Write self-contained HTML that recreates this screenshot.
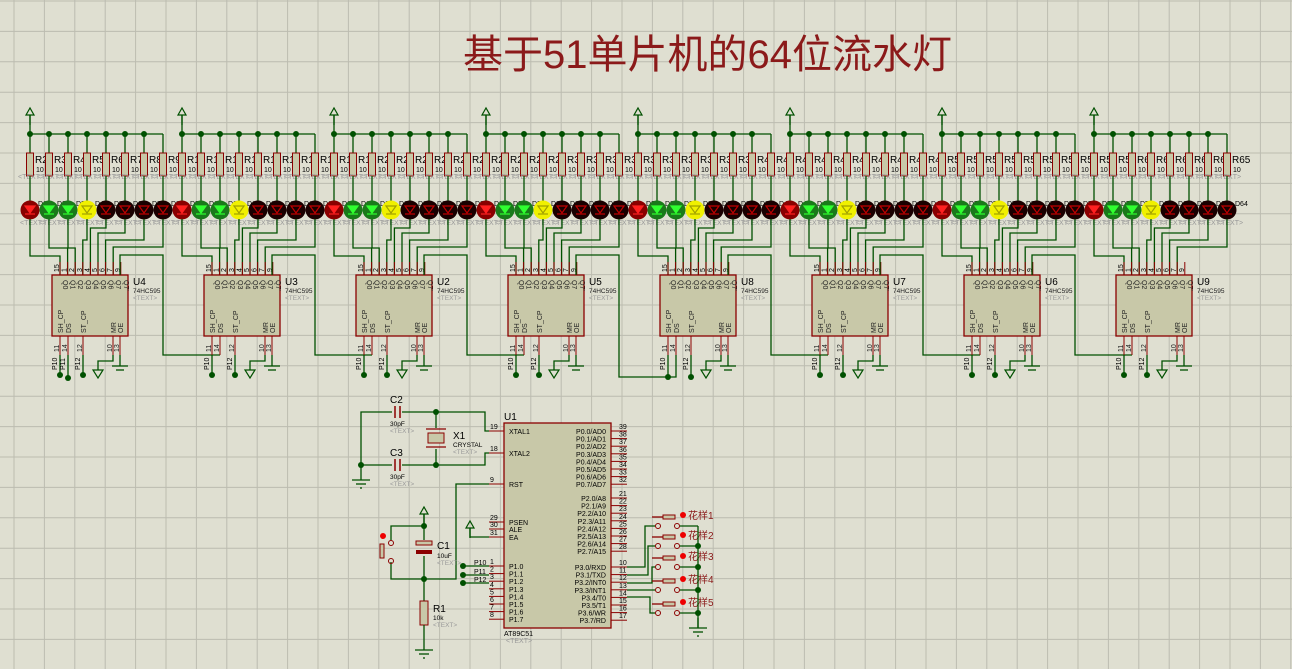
<!DOCTYPE html>
<html><head><meta charset="utf-8"><style>
html,body{margin:0;padding:0;background:#dfdfd1;}
svg{display:block;font-family:"Liberation Sans","Noto Sans CJK SC",sans-serif;}
</style></head><body>
<svg id="s" width="1292" height="669" viewBox="0 0 1292 669" xmlns="http://www.w3.org/2000/svg">
<rect width="1292" height="669" fill="#dfdfd1"/>
<g id="grid" stroke="#bcbcb0" stroke-width="1"></g>
<text x="463" y="68" font-size="40" fill="#8b1a1a" font-family="Liberation Sans,Noto Sans CJK SC,sans-serif">基于51单片机的64位流水灯</text>
<g id="main"></g>
</svg>
<script>
var g=document.getElementById('grid'),m=document.getElementById('main');
var h='';
for(var x=14;x<1292;x+=30.4)h+='<line x1="'+x.toFixed(1)+'" y1="0" x2="'+x.toFixed(1)+'" y2="669"/>';
for(var y=1;y<669;y+=30.4)h+='<line x1="0" y1="'+y.toFixed(1)+'" x2="1292" y2="'+y.toFixed(1)+'"/>';
g.innerHTML=h;
var o='';
var W='#005000',P='#8b0000',F='#c8c8a8';
function L(pts,c,w){o+='<polyline points="'+pts+'" fill="none" stroke="'+(c||W)+'" stroke-width="'+(w||1.3)+'"/>';}
function D(x,y){o+='<circle cx="'+x+'" cy="'+y+'" r="3" fill="'+W+'"/>';}
function T(x,y,s,t,c,extra){o+='<text x="'+x+'" y="'+y+'" font-size="'+s+'" fill="'+(c||'#000')+'" '+(extra||'')+'>'+t+'</text>';}
function PWR(x,y){L(x+','+(y+10)+' '+x+','+y,W);o+='<polygon points="'+(x-4)+','+(y)+' '+x+','+(y-7)+' '+(x+4)+','+y+'" fill="none" stroke="'+W+'" stroke-width="1.2"/>';}
function GND(x,y){L(x+','+(y-10)+' '+x+','+y);L((x-9)+','+y+' '+(x+9)+','+y,W);L((x-5)+','+(y+4)+' '+(x+5)+','+(y+4),W);L((x-1)+','+(y+8)+' '+(x+1)+','+(y+8),W);}
function GNDA(x,y){o+='<polygon points="'+(x-5)+','+y+' '+(x+5)+','+y+' '+x+','+(y+8)+'" fill="none" stroke="'+W+'" stroke-width="1.2"/>';}
var cols=[['#8a0000','#ff2020'],['#1a7a1a','#30ff30'],['#1a7a1a','#30ff30'],['#f0f000','#a0a000'],['#1a0000','#c00000'],['#1a0000','#c00000'],['#1a0000','#c00000'],['#1a0000','#c00000']];
var names=['U4','U3','U2','U5','U8','U7','U6','U9'];
var lvl=[256,248,248,240,228,233,240,247];
for(var k=0;k<8;k++){
 var bx=30+152*k, cx=bx+22;
 PWR(bx,115);
 L(bx+',115 '+bx+',134');
 L(bx+',134 '+(bx+133)+',134');
 var pins=[];for(var p=0;p<9;p++)pins.push(cx+8+p*7.6);
 for(var i=0;i<8;i++){
  var x=bx+19*i;
  if(i<7)D(x,134);
  L(x+',134 '+x+',153');
  o+='<rect x="'+(x-3.5)+'" y="153" width="7" height="23" fill="'+F+'" stroke="'+P+'" stroke-width="1"/>';
  T(x+5,163,10,'R'+(k*8+i+2));
  T(x+6,172,7,'10','#000');
  T(x-12,179,7,'&lt;TEXT&gt;','#999');
  L(x+',176 '+x+',201',W);
  o+='<circle cx="'+x+'" cy="210" r="9.5" fill="'+cols[i][0]+'"/>';
  o+='<polygon points="'+(x-5)+',206 '+(x+5)+',206 '+x+',213" fill="'+(i<3?cols[i][1]:'none')+'" stroke="'+cols[i][1]+'" stroke-width="1.2"/>';
  L((x-5)+',214 '+(x+5)+',214',cols[i][1],1.2);
  T(x+8,206,7,'D'+(k*8+i+1),'#000');
  T(x-10,225,7,'&lt;TEXT&gt;','#999');
  L(x+',219 '+x+','+lvl[i]+' '+pins[i].toFixed(1)+','+lvl[i]+' '+pins[i].toFixed(1)+',275');
 }
 for(var p=0;p<9;p++){L(pins[p].toFixed(1)+',262 '+pins[p].toFixed(1)+',275',P,1);T(pins[p]-1,272,7,['15','1','2','3','4','5','6','7','9'][p],'#000','transform="rotate(-90 '+(pins[p]-1)+' 272)"');}
 o+='<rect x="'+cx+'" y="275" width="76" height="61" fill="'+F+'" stroke="'+P+'" stroke-width="1.3"/>';
 var ql=['Q0','Q1','Q2','Q3','Q4','Q5','Q6','Q7','Q7\''];
 for(var p=0;p<9;p++){T(pins[p]+3,280,7,ql[p],'#222','transform="rotate(90 '+(pins[p]+3)+' 280)"');}
 T(cx+81,285,10,names[k]);T(cx+81,293,6.5,'74HC595','#222');T(cx+81,300,6.5,'&lt;TEXT&gt;','#999');
 var bp=[[cx+8,'SH_CP','11'],[cx+16,'DS','14'],[cx+31,'ST_CP','12'],[cx+61,'MR','10'],[cx+68,'OE','13']];
 for(var j=0;j<5;j++){var px=bp[j][0];L(px+',336 '+px+',355',P,1);T(px+3,333,7,bp[j][1],'#222','transform="rotate(-90 '+(px+3)+' 333)"');T(px-1,352,7,bp[j][2],'#222','transform="rotate(-90 '+(px-1)+' 352)"');}
 var yy=(k==4)?377:375;
 L((cx+8)+',355 '+(cx+8)+','+yy);D(cx+8,yy);T(cx+5,370,7,'P10','#000','transform="rotate(-90 '+(cx+5)+' 370)"');
 L((cx+31)+',355 '+(cx+31)+','+yy);D(cx+31,yy);T(cx+28,370,7,'P12','#000','transform="rotate(-90 '+(cx+28)+' 370)"');
 L((cx+61)+',355 '+(cx+61)+',361 '+(cx+46)+',361 '+(cx+46)+',370');GNDA(cx+46,370);
 L((cx+68)+',355 '+(cx+68)+',366');L((cx+60)+',366 '+(cx+76)+',366');L((cx+64)+',370 '+(cx+72)+',370');
 if(k<7){var nx=cx+152+16, cy=(k==3)?377:355;
  L((cx+68)+',275 '+(cx+68)+',255 '+(cx+111)+',255 '+(cx+111)+','+cy+' '+nx+','+cy+' '+nx+',355');}
 if(k==0){L((cx+16)+',355 '+(cx+16)+',378');D(cx+16,378);T(cx+13,370,7,'P11','#000','transform="rotate(-90 '+(cx+13)+' 370)"');}
}
o+='<rect x="504" y="423" width="107" height="205" fill="'+F+'" stroke="'+P+'" stroke-width="1.3"/>';
T(504,420,10,'U1');T(504,636,7,'AT89C51','#000');T(506,643,7,'&lt;TEXT&gt;','#999');
function LP(y,num,name){L('489,'+y+' 504,'+y,P,1);T(490,y-2,7,num);T(509,y+3,7,name);}
function RP(y,num,name){L('611,'+y+' 627,'+y,P,1);T(619,y-2,7,num);T(606,y+3,7,name,'#000','text-anchor="end"');}
LP(431,'19','XTAL1');LP(453,'18','XTAL2');LP(484,'9','RST');LP(522,'29','PSEN');LP(529,'30','ALE');LP(537,'31','EA');
for(var i=0;i<8;i++)LP(566+7.6*i,''+(i+1),'P1.'+i);
for(var i=0;i<8;i++)RP(431+7.6*i,''+(39-i),'P0.'+i+'/AD'+i);
for(var i=0;i<8;i++)RP(498+7.6*i,''+(21+i),'P2.'+i+'/A'+(8+i));
var p3=['P3.0/RXD','P3.1/TXD','P3.2/INT0','P3.3/INT1','P3.4/T0','P3.5/T1','P3.6/WR','P3.7/RD'];
for(var i=0;i<8;i++)RP(567+7.6*i,''+(10+i),p3[i]);
L('489,431 485,431 485,412 361,412 361,470');L('489,453 485,453 485,465 361,465');
D(436,412);D(436,465);D(361,465);
L('436,412 436,428');L('436,449 436,465');
o+='<rect x="428" y="433" width="16" height="10" fill="'+F+'" stroke="'+P+'"/>';L('426,429 446,429',P);L('426,447 446,447',P);
T(453,439,10,'X1');T(453,447,6.5,'CRYSTAL');T(453,454,6.5,'&lt;TEXT&gt;','#999');
[412,465].forEach(function(y){o+='<rect x="392" y="'+(y-6)+'" width="10" height="12" fill="#dfdfd1"/>';L('395,'+(y-6)+' 395,'+(y+6),P,1.5);L('400,'+(y-6)+' 400,'+(y+6),P,1.5);});
T(390,403,10,'C2');T(390,426,6.5,'30pF');T(390,433,6.5,'&lt;TEXT&gt;','#999');
T(390,456,10,'C3');T(390,479,6.5,'30pF');T(390,486,6.5,'&lt;TEXT&gt;','#999');
GND(361,480);
L('489,484 456,484 456,579 391,579 391,562');L('424,514 424,540');L('391,540 391,526 424,526');D(424,526);D(424,579);
PWR(424,514);L('424,556 424,601');
o+='<rect x="416" y="541" width="16" height="4" fill="'+F+'" stroke="'+P+'"/><rect x="416" y="550" width="16" height="4" fill="'+P+'"/>';
T(437,549,10,'C1');T(437,558,6.5,'10uF');T(437,565,6.5,'&lt;TEXT&gt;','#999');
o+='<circle cx="391" cy="543" r="2.5" fill="none" stroke="'+P+'"/><circle cx="391" cy="561" r="2.5" fill="none" stroke="'+P+'"/>';
o+='<rect x="380" y="544" width="4" height="14" fill="'+F+'" stroke="'+P+'"/><circle cx="383" cy="536" r="3" fill="#e00"/>';
o+='<rect x="420" y="601" width="8" height="24" fill="'+F+'" stroke="'+P+'"/>';L('424,625 424,640');GND(424,650);
T(433,612,10,'R1');T(433,620,6.5,'10k');T(433,627,6.5,'&lt;TEXT&gt;','#999');
PWR(470,528);L('470,528 470,537 489,537');
[566,575,583].forEach(function(y,i){L('463,'+y+' 489,'+y);D(463,y);T(474,y-1,7,'P1'+i);});
var sy=[526,546,567,590,613],srcY=[567,575,583,590,597];
for(var i=0;i<5;i++){var y=sy[i];
 o+='<circle cx="658" cy="'+y+'" r="2.5" fill="none" stroke="'+P+'"/><circle cx="677" cy="'+y+'" r="2.5" fill="none" stroke="'+P+'"/>';
 L('652,'+(y-9)+' 663,'+(y-9),P);o+='<rect x="663" y="'+(y-11)+'" width="12" height="4" fill="'+F+'" stroke="'+P+'"/>';
 o+='<circle cx="683" cy="'+(y-11)+'" r="3" fill="#e00"/>';T(688,y-7,10,'花样'+(i+1),'#8b1a1a');
 L('680,'+y+' 698,'+y);if(i>0)D(698,y);
 var sx=[645,648,652,0,650][i];
 if(i==3)L('627,'+srcY[i]+' 655,'+y);else L('627,'+srcY[i]+' '+sx+','+srcY[i]+' '+sx+','+y+' 655,'+y);
}
L('698,526 698,628');GND(698,628);
m.innerHTML=o;
</script>
</body></html>
